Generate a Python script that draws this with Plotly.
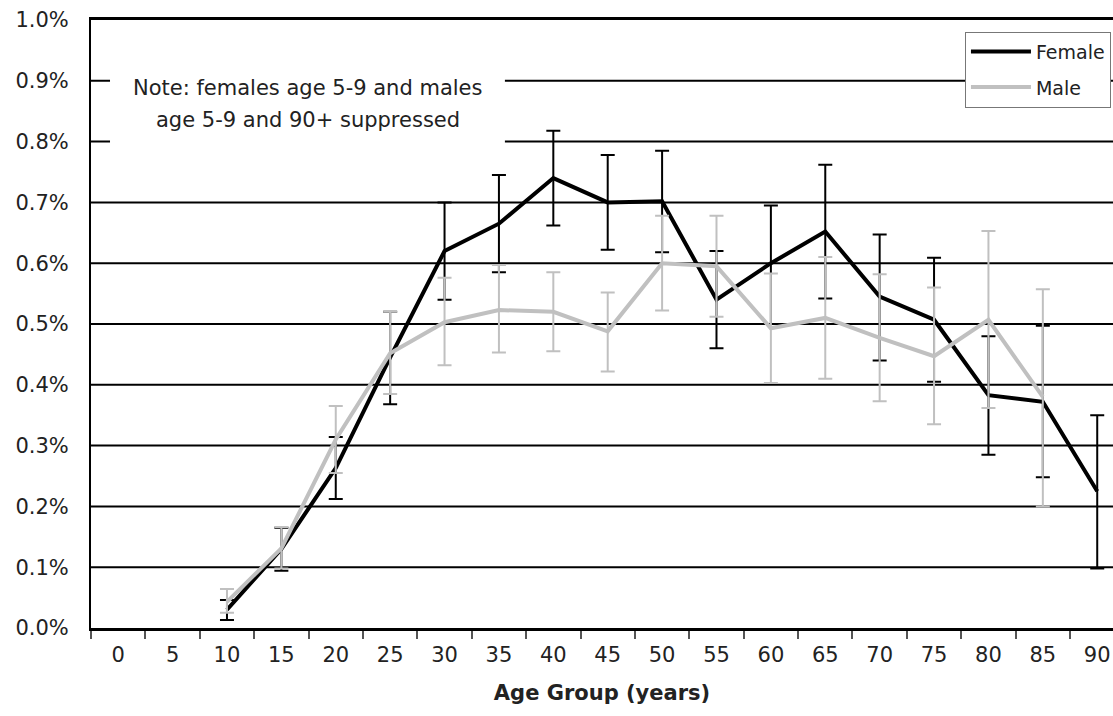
"""
Crude percent by age group, female vs male, with error bars
"""
import plotly.graph_objects as go

# age group categories (x axis)
age_groups = ["0", "5", "10", "15", "20", "25", "30", "35", "40", "45",
              "50", "55", "60", "65", "70", "75", "80", "85", "90"]

# female series (percent)
female_x = ["10", "15", "20", "25", "30", "35", "40", "45", "50",
            "55", "60", "65", "70", "75", "80", "85", "90"]
female_pct = [0.030, 0.130, 0.263, 0.445, 0.620, 0.665, 0.740, 0.700, 0.702,
              0.540, 0.600, 0.652, 0.545, 0.507, 0.383, 0.372, 0.225]
female_hi = [0.046, 0.165, 0.314, 0.520, 0.700, 0.745, 0.818, 0.778, 0.785,
             0.620, 0.695, 0.762, 0.647, 0.609, 0.480, 0.497, 0.350]
female_lo = [0.013, 0.094, 0.212, 0.368, 0.540, 0.585, 0.662, 0.622, 0.618,
             0.460, 0.500, 0.542, 0.440, 0.405, 0.285, 0.248, 0.098]

# male series (percent)
male_x = ["10", "15", "20", "25", "30", "35", "40", "45", "50",
          "55", "60", "65", "70", "75", "80", "85"]
male_pct = [0.043, 0.131, 0.310, 0.452, 0.503, 0.523, 0.520, 0.488, 0.600,
            0.595, 0.493, 0.510, 0.477, 0.447, 0.507, 0.380]
male_hi = [0.064, 0.166, 0.365, 0.520, 0.576, 0.597, 0.585, 0.552, 0.678,
           0.678, 0.583, 0.610, 0.582, 0.560, 0.653, 0.557]
male_lo = [0.025, 0.098, 0.255, 0.385, 0.432, 0.453, 0.455, 0.422, 0.522,
           0.512, 0.403, 0.410, 0.373, 0.335, 0.362, 0.200]

y_ticks = [0.0, 0.1, 0.2, 0.3, 0.4, 0.5, 0.6, 0.7, 0.8, 0.9, 1.0]
y_labels = [f"{v:.1f}%" for v in y_ticks]

FONT = "DejaVu Sans"
TXT = "#222"
SIZE = 21


def err(vals, hi, lo):
    """error bar arrays from bounds"""
    plus = [h - v for v, h in zip(vals, hi)]
    minus = [v - l for v, l in zip(vals, lo)]
    return plus, minus


fig = go.Figure()

f_plus, f_minus = err(female_pct, female_hi, female_lo)
fig.add_trace(go.Scatter(
    x=female_x, y=female_pct, name="Female", mode="lines", legendgroup="f",
    line=dict(color="black", width=4),
    error_y=dict(type="data", array=f_plus, arrayminus=f_minus,
                 color="black", thickness=2, width=7),
))

m_plus, m_minus = err(male_pct, male_hi, male_lo)
fig.add_trace(go.Scatter(
    x=male_x, y=male_pct, name="Male", mode="lines", legendgroup="m",
    line=dict(color="#c0c0c0", width=4),
    error_y=dict(type="data", array=m_plus, arrayminus=m_minus,
                 color="#c0c0c0", thickness=2, width=7),
))

# horizontal gridlines as shapes so the note box can sit on top of them
for v in y_ticks[1:-1]:
    fig.add_shape(type="line", xref="paper", yref="y", x0=0, x1=1, y0=v, y1=v,
                  line=dict(color="black", width=2), layer="below")

# white box behind the note
fig.add_shape(type="rect", xref="paper", yref="y",
              x0=0.0186, x1=0.405, y0=0.775, y1=0.93,
              fillcolor="white", line=dict(width=0), layer="below")

fig.add_annotation(xref="paper", yref="y", x=0.212, y=0.888, xanchor="center",
                   text="Note: females age 5-9 and males", showarrow=False,
                   font=dict(family=FONT, size=SIZE, color=TXT))
fig.add_annotation(xref="paper", yref="y", x=0.212, y=0.835, xanchor="center",
                   text="age 5-9 and 90+ suppressed", showarrow=False,
                   font=dict(family=FONT, size=SIZE, color=TXT))

fig.update_layout(
    width=1113, height=716,
    margin=dict(l=91, r=0, t=20, b=88),
    paper_bgcolor="white", plot_bgcolor="white",
    font=dict(family=FONT, size=SIZE, color=TXT),
    showlegend=True,
    legend=dict(x=0.998, xanchor="right", y=0.981, yanchor="top",
                bgcolor="white", bordercolor="#777", borderwidth=1,
                font=dict(size=19), itemwidth=60,
                traceorder="grouped", tracegroupgap=8),
)

fig.update_xaxes(
    type="category", categoryorder="array", categoryarray=age_groups,
    range=[-0.5, 18.29], tickson="boundaries",
    ticks="outside", ticklen=8, tickwidth=1.5, tickcolor="#555",
    ticklabelstandoff=6,
    showline=True, linecolor="black", linewidth=3, mirror=True,
    showgrid=False,
    title=dict(text="<b>Age Group (years)</b>", standoff=20,
               font=dict(family=FONT, size=SIZE, color=TXT)),
)

fig.update_yaxes(
    range=[0, 1.0], tickvals=y_ticks, ticktext=y_labels,
    ticklabelstandoff=16,
    showgrid=False, zeroline=False,
    showline=True, linecolor="black", linewidth=2, ticks="",
)

fig.write_html("out.html", config={"displayModeBar": False},
               post_script="document.body.style.margin='0';"
                           "document.body.style.overflow='hidden';")
